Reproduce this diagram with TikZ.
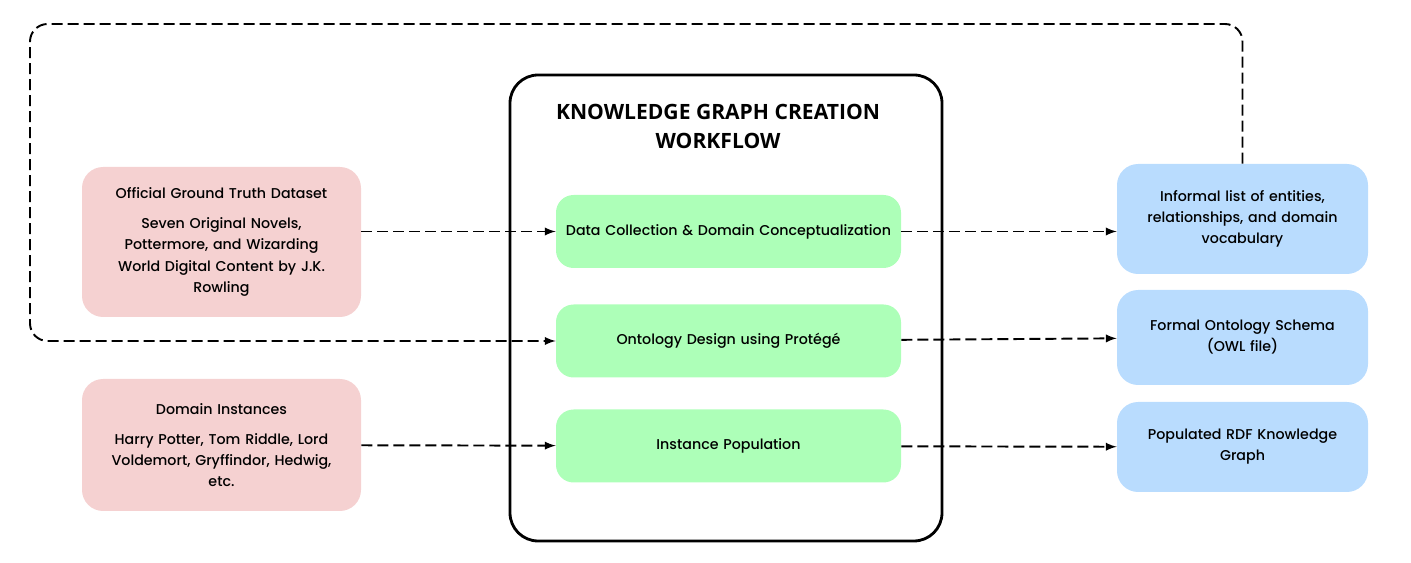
\documentclass[tikz,border=0pt]{standalone}
\usepackage{fontspec}
\setmainfont{Poppins}[UprightFont={* Medium}]
\newfontfamily\titlefont{Open Sans}
\usepackage{xcolor}
\usepackage{tikz}
\usetikzlibrary{arrows, positioning, calc}
\hyphenpenalty=10000
\definecolor{srcpink}{HTML}{F5D1D1}
\definecolor{stepgreen}{HTML}{ADFFB8}
\definecolor{outblue}{HTML}{B9DCFE}
\tikzstyle{source} = [rectangle, rounded corners=12pt, minimum width=5.58cm, text width=5.2cm, align=center, fill=srcpink, font=\fontsize{8.1}{12}\selectfont]
\tikzstyle{stage} = [rectangle, rounded corners=10pt, minimum width=6.9cm, minimum height=1.46cm, text width=6.6cm, align=center, fill=stepgreen, font=\fontsize{8.1}{12}\selectfont]
\tikzstyle{output} = [rectangle, rounded corners=12pt, minimum width=5.02cm, text width=4.7cm, align=center, fill=outblue, font=\fontsize{8.1}{12}\selectfont]
\tikzstyle{arrow} = [line width=1.1pt, dash pattern=on 0.22cm off 0.1cm, ->, >=latex]

\begin{document}
\begin{tikzpicture}
    \useasboundingbox (0,0) rectangle (28.22,11.26);
    % Workflow frame
    \node[draw, line width=1.6pt, rounded corners=16pt, minimum width=8.64cm, minimum height=9.32cm] (frame) at (14.52,5.10) {};
    \node[font=\titlefont\bfseries\fontsize{12}{16.5}\selectfont, align=center] (title) at (14.36,8.73) {KNOWLEDGE GRAPH CREATION\\WORKFLOW};

    % Stages
    \node[stage] (collect) at (14.57,6.63) {Data Collection \& Domain Conceptualization};
    \node[stage] (ontology) at (14.57,4.44) {Ontology Design using Protégé};
    \node[stage] (population) at (14.57,2.34) {Instance Population};

    % Sources
    \node[source, minimum height=3.0cm] (truth) at (4.43,6.42) {Official Ground Truth Dataset\\[5pt]Seven Original Novels,\\Pottermore, and Wizarding\\World Digital Content by J.K.\\Rowling};
    \node[source, minimum height=2.64cm] (instances) at (4.43,2.36) {Domain Instances\\[5pt]Harry Potter, Tom Riddle, Lord\\Voldemort, Gryffindor, Hedwig,\\etc.};

    % Outputs
    \node[output, minimum height=2.2cm] (informal) at (24.85,6.88) {Informal list of entities,\\relationships, and domain\\vocabulary};
    \node[output, minimum height=1.9cm] (schema) at (24.85,4.51) {Formal Ontology Schema\\(OWL file)};
    \node[output, minimum height=1.8cm] (rdf) at (24.85,2.32) {Populated RDF Knowledge\\Graph};

    % Flow
    \draw[arrow] (truth.east |- collect) -- (collect.west);
    \draw[arrow] (instances) -- (population);
    \draw[arrow] (collect.east) -- (informal.west |- collect);
    \draw[arrow] (ontology) -- (schema);
    \draw[arrow] (population) -- (rdf);

    % Feedback loop
    \coordinate (loopR) at (24.85,10.78);
    \coordinate (loopL) at (0.6,10.78);
    \draw[arrow, rounded corners=10pt] (informal.north) -- (loopR) -- (loopL) |- (ontology.west);
\end{tikzpicture}
\end{document}
